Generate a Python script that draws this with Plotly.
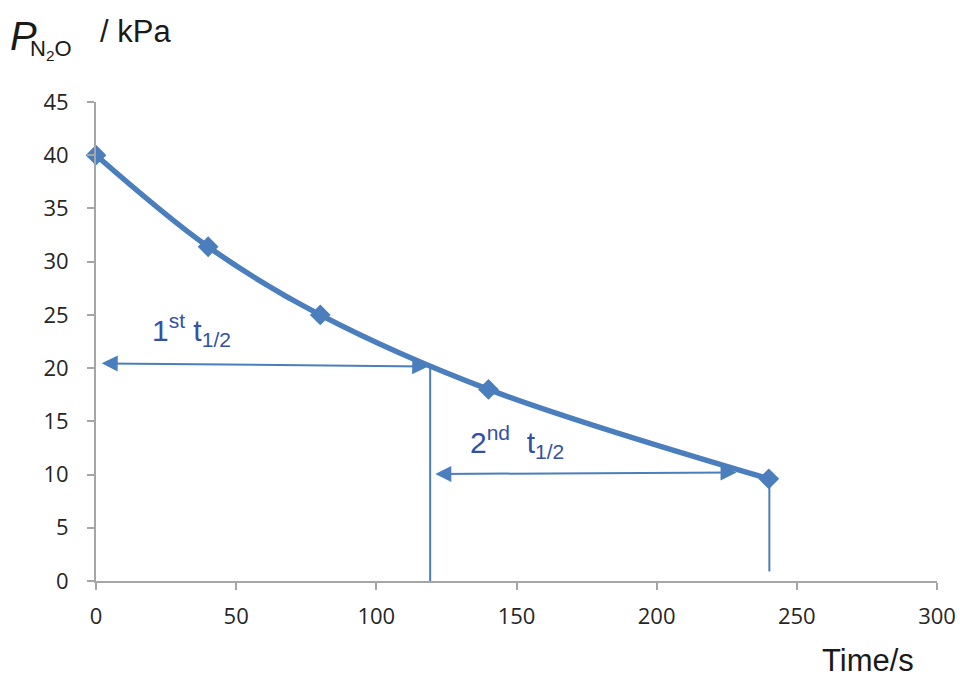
import plotly.graph_objects as go

# Data
time_s = [0, 40, 80, 140, 240]
p_n2o_kpa = [40, 31.4, 25, 18, 9.6]

x_ticks = [0, 50, 100, 150, 200, 250, 300]
y_ticks = [0, 5, 10, 15, 20, 25, 30, 35, 40, 45]

# half-life markers
half1_arrow_x = [1.5, 118.5]
half1_arrow_y = [20.45, 20.15]
half1_drop_x = 119.2
half1_drop_y = [20.1, 0]
half2_arrow_x = [120.5, 228.5]
half2_arrow_y = [10.05, 10.2]
half2_drop_x = 240.2
half2_drop_y = [9.3, 0.9]
label1_pos = (34, 23.6)
label2_pos = (150, 13.1)

LINE = "#4a7ebc"
TXT = "#3550a2"
AX = "#a6a6a6"
TICKFONT = dict(family="Open Sans, sans-serif", size=22, color="#262626")

W, H = 960, 675
ml, mr, mt, mb = 96, 23, 102, 94

fig = go.Figure()
fig.add_trace(go.Scatter(
    x=time_s, y=p_n2o_kpa, mode="lines+markers",
    line=dict(color=LINE, width=5.5, shape="spline", smoothing=1.0),
    marker=dict(symbol="diamond", size=16, color=LINE),
    cliponaxis=False, showlegend=False,
))

fig.add_trace(go.Scatter(x=[half1_drop_x, half1_drop_x], y=half1_drop_y, mode="lines",
                         line=dict(color=LINE, width=2), showlegend=False, cliponaxis=False))
fig.add_trace(go.Scatter(x=[half2_drop_x, half2_drop_x], y=half2_drop_y, mode="lines",
                         line=dict(color=LINE, width=2), showlegend=False, cliponaxis=False))

for ax_, ay_ in [(half1_arrow_x, half1_arrow_y), (half2_arrow_x, half2_arrow_y)]:
    fig.add_annotation(x=ax_[1], y=ay_[1], ax=ax_[0], ay=ay_[0],
                       xref="x", yref="y", axref="x", ayref="y", text="",
                       showarrow=True, arrowhead=2, arrowside="end+start",
                       arrowsize=1.6, arrowwidth=2, arrowcolor=LINE,
                       startarrowhead=2, startarrowsize=1.6)

fig.add_annotation(x=label1_pos[0], y=label1_pos[1], xref="x", yref="y",
                   text="1<sup>st</sup> t<sub>1/2</sub>", showarrow=False,
                   font=dict(family="Liberation Sans, Arial", size=30, color=TXT))
fig.add_annotation(x=label2_pos[0], y=label2_pos[1], xref="x", yref="y",
                   text="2<sup>nd</sup>  t<sub>1/2</sub>", showarrow=False,
                   font=dict(family="Liberation Sans, Arial", size=30, color=TXT))

# axis titles (page pixel positions)
page_texts = [
    (8, 12, "<i>P</i>", 40),
    (28, 34, "N<sub>2</sub>O", 22),
    (98, 12, "/ kPa", 31),
    (820, 641, "Time/s", 31),
]
for px, py, txt, sz in page_texts:
    fig.add_annotation(x=(px - ml) / (W - ml - mr), y=1 - (py - mt) / (H - mt - mb),
                       xref="paper", yref="paper", xanchor="left", yanchor="top",
                       text=txt, showarrow=False,
                       font=dict(family="Liberation Sans, Arial", size=sz, color="#1a1a1a"))

fig.update_layout(
    width=W, height=H, margin=dict(l=ml, r=mr, t=mt, b=mb, autoexpand=False),
    plot_bgcolor="white", paper_bgcolor="white",
    xaxis=dict(range=[0, 300], tickvals=x_ticks, showgrid=False, zeroline=False,
               showline=True, linecolor=AX, linewidth=2, ticks="outside",
               ticklen=7, tickcolor=AX, tickwidth=2, tickfont=TICKFONT,
               ticklabelstandoff=8),
    yaxis=dict(range=[0, 45], tickvals=y_ticks, showgrid=False, zeroline=False,
               showline=True, linecolor=AX, linewidth=2, ticks="outside",
               ticklen=7, tickcolor=AX, tickwidth=2, tickfont=TICKFONT,
               ticklabelstandoff=14),
)

fig.write_html("out.html", config={"displayModeBar": False},
               post_script="document.body.style.margin='0';document.body.style.overflow='hidden';")
